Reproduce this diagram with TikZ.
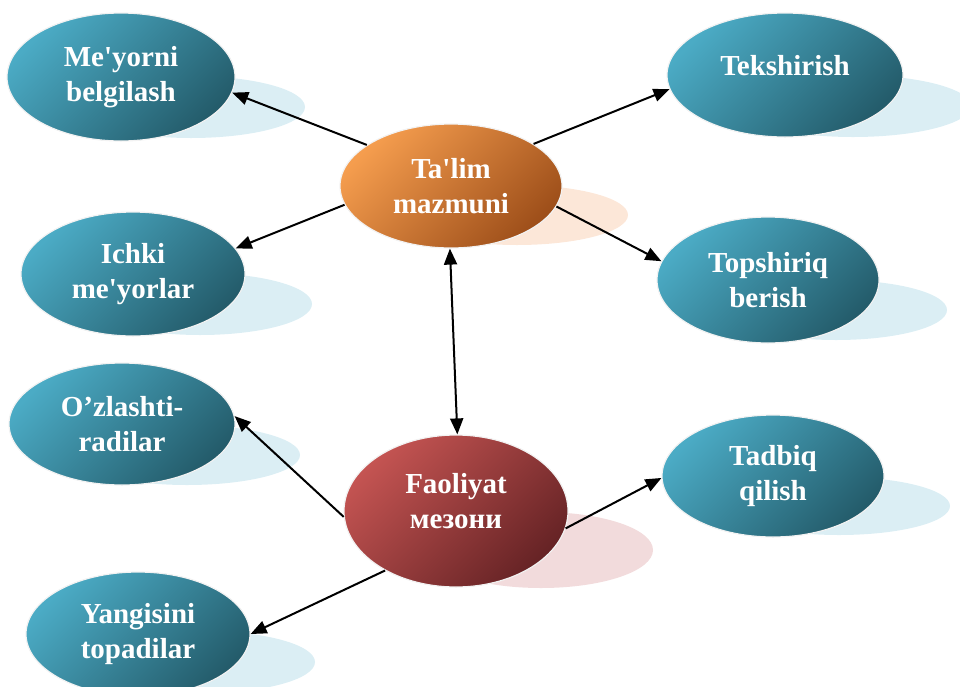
\documentclass[tikz,border=0pt]{standalone}
\usepackage{fontspec}
\setmainfont{Liberation Serif}
\usetikzlibrary{shapes.geometric,arrows.meta}

\definecolor{bluehi}{HTML}{4BABC5}
\definecolor{bluelo}{HTML}{245C6B}
\definecolor{orangehi}{HTML}{F59D4E}
\definecolor{orangelo}{HTML}{9E4F1A}
\definecolor{redhi}{HTML}{C45452}
\definecolor{redlo}{HTML}{662325}
\definecolor{blueshadow}{HTML}{DBEEF4}
\definecolor{orangeshadow}{HTML}{FCE7D8}
\definecolor{redshadow}{HTML}{F2DBDC}

\tikzset{
    bubble/.style={ellipse, draw=gray!10, line width=1.2pt, inner sep=0pt, align=center,
        text=white, font=\bfseries\fontsize{29}{35}\selectfont},
    bluebub/.style={bubble, top color=bluehi, bottom color=bluelo, shading angle=45},
    orangebub/.style={bubble, top color=orangehi, bottom color=orangelo, shading angle=45},
    redbub/.style={bubble, top color=redhi, bottom color=redlo, shading angle=45},
    arr/.style={-{Triangle[length=16pt,width=13pt]}, line width=2pt},
    arrboth/.style={{Triangle[length=16pt,width=13pt]}-{Triangle[length=16pt,width=13pt]}, line width=2pt}
}

\begin{document}
\begin{tikzpicture}[x=1pt, y=-1pt]
    \useasboundingbox (0,0) rectangle (960,686);

    % shadows
    \foreach \x/\y/\rx/\ry/\c in {191/107/114/31/blueshadow, 853/106/118/31/blueshadow,
            517/215/111/30/orangeshadow, 200/304/112/31/blueshadow, 836/310/111/30/blueshadow,
            187/455/113/30/blueshadow, 541/550/112/38/redshadow, 839/506/111/29/blueshadow,
            203/662/112/31/blueshadow}
        \fill[\c] (\x,\y) ellipse [x radius=\rx, y radius=\ry];

    \node[orangebub, minimum width=222pt, minimum height=124pt] (talim) at (451,186) {Ta\textquotesingle lim\\mazmuni};
    \node[redbub, minimum width=224pt, minimum height=152pt, text depth=20pt] (faoliyat) at (456,511) {Faoliyat\\мезони};

    \node[bluebub, minimum width=228pt, minimum height=128pt] (meyorni) at (121,77) {Me\textquotesingle yorni\\belgilash};
    \node[bluebub, minimum width=236pt, minimum height=124pt, text depth=20pt] (tekshirish) at (785,75) {Tekshirish};
    \node[bluebub, minimum width=224pt, minimum height=124pt] (ichki) at (133,274) {Ichki\\me\textquotesingle yorlar};
    \node[bluebub, minimum width=222pt, minimum height=126pt] (topshiriq) at (768,280) {Topshiriq\\berish};
    \node[bluebub, minimum width=226pt, minimum height=122pt] (ozlashti) at (122,424) {O’zlashti-\\radilar};
    \node[bluebub, minimum width=222pt, minimum height=122pt] (tadbiq) at (773,476) {Tadbiq\\qilish};
    \node[bluebub, minimum width=224pt, minimum height=124pt] (yangisini) at (138,634) {Yangisini\\topadilar};

    \draw[arr] (talim.154) -- (meyorni.-8);
    \draw[arr] (talim.27) -- (tekshirish.187);
    \draw[arr] (talim.190) -- (ichki.14);
    \draw[arr] (talim.-11) -- (topshiriq.170);
    \draw[arrboth] (talim.-91) -- (faoliyat.89);
    \draw[arr] (faoliyat.183) -- (ozlashti.4);
    \draw[arr] (faoliyat.-9) -- (tadbiq.181);
    \draw[arr] (faoliyat.220) -- (yangisini.0);
\end{tikzpicture}
\end{document}
